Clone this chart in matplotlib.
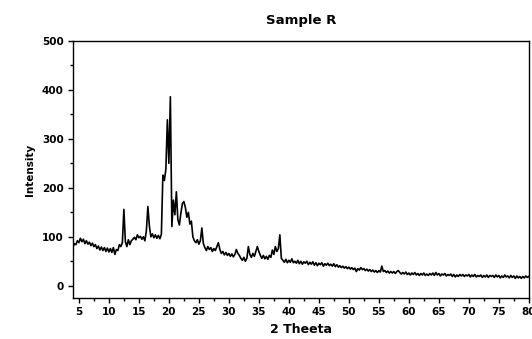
import numpy as np
import matplotlib
matplotlib.use("Agg")
import matplotlib.pyplot as plt
from matplotlib.ticker import MultipleLocator

# XRD scan of sample R at 0.25 deg steps from 4 to 80
two_theta_start = 4.0
two_theta_end = 80.0

intensity = [
    # 4.00 - 8.75
    78, 86, 84, 92, 88, 97, 90, 95, 86, 92, 85, 89, 82, 87, 80, 84, 76, 81, 73, 79,
    # 9.00 - 13.75
    72, 78, 70, 77, 69, 76, 68, 78, 64, 74, 72, 84, 80, 88, 156, 90, 80, 94, 84, 92,
    # 14.00 - 18.75
    95, 99, 94, 104, 98, 101, 95, 100, 92, 112, 162, 122, 100, 106, 98, 104, 97, 103, 96, 105,
    # 19.00 - 23.75
    226, 215, 238, 339, 250, 386, 121, 175, 145, 192, 135, 124, 148, 168, 172, 160, 140, 150, 126, 132,
    # 24.00 - 28.75
    100, 92, 88, 94, 85, 92, 118, 86, 78, 72, 80, 74, 78, 70, 76, 72, 80, 88, 74, 66,
    # 29.00 - 33.75
    70, 63, 68, 62, 66, 60, 65, 59, 64, 74, 66, 62, 56, 52, 58, 50, 56, 80, 64, 58,
    # 34.00 - 38.75
    66, 60, 70, 80, 70, 62, 56, 62, 55, 60, 54, 62, 58, 73, 64, 80, 70, 76, 104, 56,
    # 39.00 - 43.75
    52, 48, 54, 47, 52, 48, 55, 47, 50, 46, 52, 45, 50, 44, 49, 46, 50, 43, 48, 44,
    # 44.00 - 48.75
    49, 42, 47, 41, 46, 43, 47, 40, 45, 42, 46, 41, 44, 40, 45, 39, 43, 38, 41, 37,
    # 49.00 - 53.75
    40, 36, 39, 35, 38, 34, 37, 33, 36, 29, 35, 32, 37, 33, 35, 31, 34, 30, 33, 29,
    # 54.00 - 58.75
    32, 28, 31, 27, 31, 28, 40, 29, 31, 27, 30, 26, 29, 26, 29, 25, 29, 31, 27, 24,
    # 59.00 - 63.75
    27, 24, 28, 23, 26, 22, 26, 23, 27, 22, 25, 21, 25, 22, 26, 21, 24, 21, 25, 22,
    # 64.00 - 68.75
    26, 21, 27, 22, 25, 20, 24, 22, 25, 20, 23, 21, 24, 19, 23, 18, 22, 19, 23, 20,
    # 69.00 - 73.75
    23, 19, 22, 20, 23, 18, 22, 19, 23, 18, 21, 19, 22, 17, 21, 18, 22, 17, 21, 19,
    # 74.00 - 78.75
    21, 17, 22, 18, 21, 16, 20, 17, 22, 18, 20, 16, 21, 17, 20, 15, 20, 16, 19, 15,
    # 79.00 - 80.00
    19, 16, 20, 17, 19,
]

two_theta = np.linspace(two_theta_start, two_theta_end, len(intensity))

fig = plt.figure(figsize=(5.32, 3.39), dpi=100)
ax = fig.add_axes([0.137, 0.121, 0.857, 0.758])

ax.plot(two_theta, intensity, color="black", lw=1.2)

ax.set_xlim(4, 80)
ax.set_ylim(-25, 500)
ax.xaxis.set_major_locator(MultipleLocator(5))
ax.xaxis.set_minor_locator(MultipleLocator(2.5))
ax.yaxis.set_major_locator(MultipleLocator(100))
ax.yaxis.set_minor_locator(MultipleLocator(50))
ax.tick_params(which="major", direction="out", length=3.6, width=1, labelsize=7.5, pad=3)
ax.tick_params(which="minor", direction="out", length=2, width=1)
for lbl in ax.get_xticklabels() + ax.get_yticklabels():
    lbl.set_fontweight("bold")

for s in ax.spines.values():
    s.set_linewidth(1.0)

ax.set_title("Sample R", fontsize=9.5, fontweight="bold", pad=12)
ax.set_xlabel("2 Theeta", fontsize=9, fontweight="bold", labelpad=4)
ax.set_ylabel("Intensity", fontsize=7.5, fontweight="bold", labelpad=5)

fig.savefig("out.png", dpi=100)
